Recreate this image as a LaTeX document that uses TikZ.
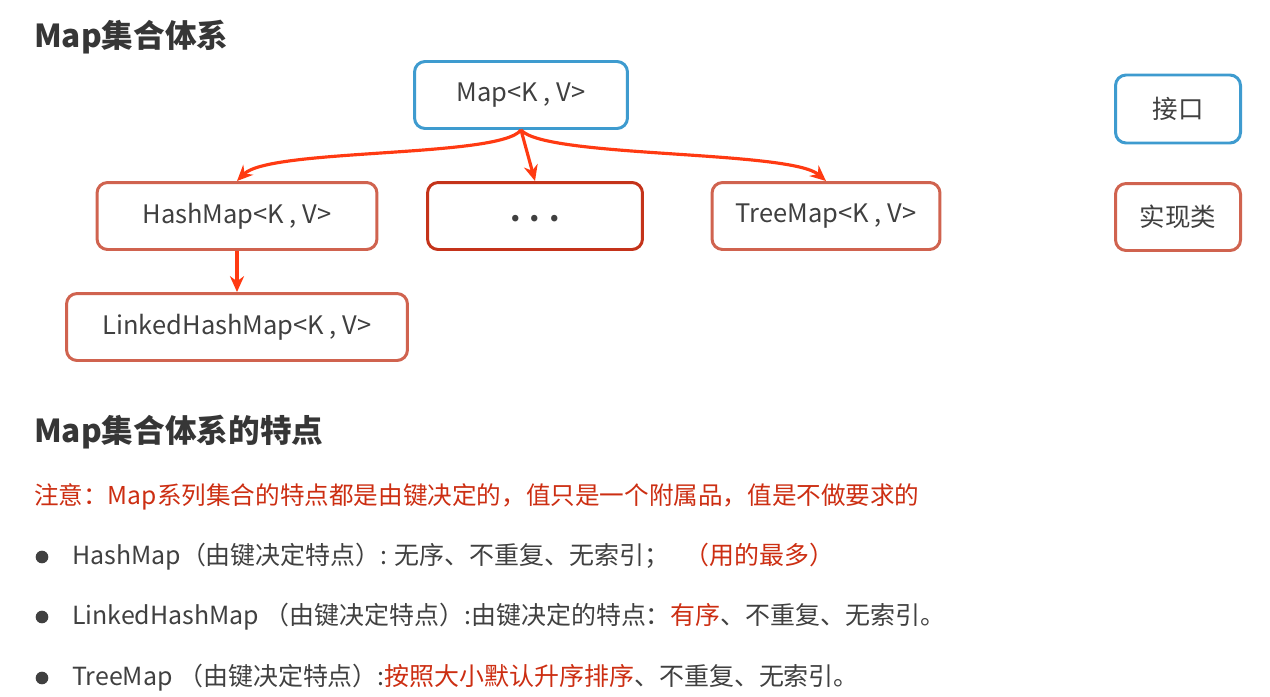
\documentclass[tikz,border=0pt]{standalone}
\usepackage{fontspec}
\setmainfont{Noto Sans CJK SC}
\usetikzlibrary{arrows.meta}
\definecolor{ifblue}{HTML}{3E9BCF}
\definecolor{clsred}{HTML}{D0634F}
\definecolor{dotred}{HTML}{C4331A}
\definecolor{arrred}{HTML}{FF3A12}
\definecolor{txtred}{HTML}{CC2E12}
\definecolor{txtgray}{HTML}{404040}
\tikzset{
  box/.style={draw, rounded corners=6pt, line width=1.7pt, fill=white,
    minimum height=1.34cm, text=txtgray, font=\fontsize{14.5}{17}\selectfont},
  ifbox/.style={box, draw=ifblue},
  clsbox/.style={box, draw=clsred},
  inherit/.style={arrred, line width=1.8pt, -{Stealth[length=9pt,width=8pt]}},
  heading/.style={anchor=west, text=txtgray!85!black, font=\fontsize{18}{21}\selectfont\bfseries},
  line/.style={anchor=west, text=txtgray, font=\fontsize{14.2}{17}\selectfont}
}
\begin{document}
\begin{tikzpicture}[x=0.02cm,y=-0.02cm]
  \useasboundingbox (0,0) rectangle (1270,696);
  % hierarchy
  \node[heading] (t1) at (28,37) {Map集合体系};
  \node[ifbox, minimum width=4.26cm] (map) at (521,95) {Map<K , V>};
  \node[clsbox, minimum width=5.6cm] (hm) at (237,216) {HashMap<K , V>};
  \node[box, draw=dotred, minimum width=4.3cm, font=\fontsize{17}{17}\selectfont\bfseries] (dots) at (535,216) {\strut. . .};
  \node[clsbox, minimum width=4.56cm] (tm) at (826,216) {TreeMap<K , V>};
  \node[clsbox, minimum width=6.82cm] (lhm) at (237,327) {LinkedHashMap<K , V>};
  % legend
  \node[ifbox, minimum width=2.5cm, minimum height=1.36cm] (lgif) at (1178,109) {接口};
  \node[clsbox, minimum width=2.5cm] (lgcls) at (1178,217) {实现类};
  % arrows
  \draw[inherit] (map.south) .. controls (500,158) and (270,148) .. (hm.north);
  \draw[inherit] (map.south) -- (dots.north);
  \draw[inherit] (map.south) .. controls (545,158) and (790,150) .. (tm.north);
  \draw[inherit] (hm.south) -- (lhm.north);
  % features
  \node[heading] (t2) at (28,432) {Map集合体系的特点};
  \node[line, text=txtred, font=\fontsize{14}{17}\selectfont] (note) at (28,497) {注意：Map系列集合的特点都是由键决定的，值只是一个附属品，值是不做要求的};
  \foreach \y in {557,617,678} \fill[txtgray] (42,\y) circle (3.6pt);
  \node[line] (f1) at (66,557) {HashMap（由键决定特点）: 无序、不重复、无索引；\hspace{0.6em}\textcolor{txtred}{（用的最多）}};
  \node[line] (f2) at (66,617) {LinkedHashMap （由键决定特点）:由键决定的特点：\textcolor{txtred}{有序}、不重复、无索引。};
  \node[line] (f3) at (66,678) {TreeMap （由键决定特点）:\textcolor{txtred}{按照大小默认升序排序}、不重复、无索引。};
\end{tikzpicture}
\end{document}
